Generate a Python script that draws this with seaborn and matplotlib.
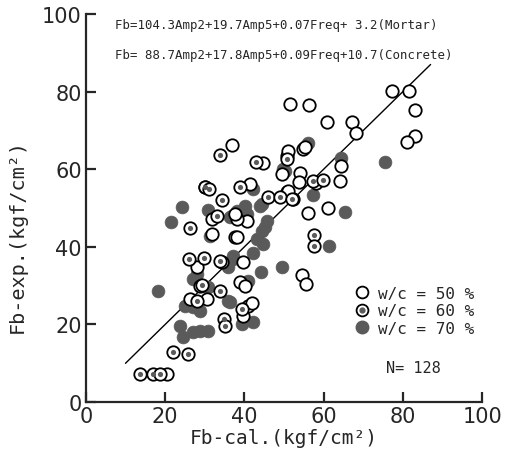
import seaborn as sns
import pandas as pd
import matplotlib.pyplot as plt
from matplotlib.lines import Line2D
from matplotlib.legend_handler import HandlerTuple

# w/c = 50 % (open circles)
open_x = [77.3, 81.6, 83.0, 83.0, 81.0, 51.5, 56.3, 60.9, 67.2, 68.2, 54.8, 50.8,
          51.0, 64.4, 54.0, 53.8, 64.1, 50.8, 52.3, 56.1, 61.1, 54.5, 55.6, 39.6,
          38.9, 40.2, 40.9, 39.6, 28.0, 26.3, 30.6, 20.5, 37.6, 31.9, 34.3, 36.9,
          44.7, 55.3, 49.5, 41.4, 51.0, 31.8, 38.1, 40.7, 38.1, 28.8, 30.1, 58.0,
          37.6, 42.0]
open_y = [80.2, 80.2, 75.3, 68.6, 67.0, 76.8, 76.5, 72.2, 72.2, 69.3, 65.2, 63.4,
          64.6, 60.8, 59.0, 56.7, 57.0, 54.1, 52.3, 48.7, 50.0, 32.7, 30.4, 36.1,
          30.9, 29.9, 24.7, 22.2, 34.8, 26.5, 26.5, 7.2, 42.5, 43.3, 36.1, 66.2,
          61.6, 65.7, 58.8, 56.2, 54.4, 47.2, 42.5, 46.6, 47.2, 29.9, 55.4, 56.5,
          48.4, 25.5]

# w/c = 60 % (circle with dot)
dot_x = [57.6, 57.6, 39.4, 26.0, 29.8, 33.8, 33.8, 34.8, 28.0, 22.0, 25.8, 13.6,
         16.9, 18.7, 26.3, 33.8, 42.9, 50.8, 30.1, 31.0, 34.3, 38.9, 33.1, 46.0,
         49.0, 52.0, 57.3, 59.8, 29.2, 35.1]
dot_y = [43.0, 40.2, 24.0, 36.9, 37.1, 28.6, 36.3, 21.4, 26.0, 12.9, 12.4, 7.2,
         7.2, 7.2, 44.8, 63.7, 61.9, 62.6, 55.4, 55.0, 52.1, 55.4, 47.9, 52.8,
         52.8, 52.3, 57.0, 57.2, 30.3, 19.6]

# w/c = 70 % (filled)
fill_x = [56.1, 49.7, 64.4, 75.5, 57.3, 65.4, 61.4, 49.5, 44.2, 44.7, 42.2, 37.1,
          40.9, 36.4, 39.4, 42.2, 28.0, 27.0, 30.8, 35.9, 37.1, 35.9, 18.2, 27.0,
          28.8, 25.0, 23.7, 24.5, 28.8, 30.8, 27.0, 31.3, 24.2, 21.5, 30.8, 38.1,
          42.2, 40.2, 40.7, 43.9, 36.4, 45.2, 45.7, 43.2, 44.4, 44.4, 36.9, 50.3]
fill_y = [66.8, 60.1, 62.9, 61.9, 53.4, 49.0, 40.2, 34.8, 33.5, 40.7, 38.4, 36.9,
          31.2, 25.8, 20.1, 20.6, 33.0, 31.7, 29.6, 34.8, 37.6, 26.0, 28.6, 24.5,
          23.5, 24.7, 19.6, 16.8, 18.3, 18.3, 18.0, 42.8, 50.3, 46.4, 49.5, 49.2,
          54.9, 50.5, 48.5, 50.5, 47.7, 45.1, 46.6, 42.0, 44.1, 51.0, 47.9, 59.5]

fit_line = [10, 87]

labels = ["w/c = 50 %", "w/c = 60 %", "w/c = 70 %"]
eq_mortar = "Fb=104.3Amp2+19.7Amp5+0.07Freq+ 3.2(Mortar)"
eq_concrete = "Fb= 88.7Amp2+17.8Amp5+0.09Freq+10.7(Concrete)"

gray = "#5a5a5a"
mono = "DejaVu Sans Mono"


def main():
    sns.set_style("ticks")
    fig = plt.figure(figsize=(5.08, 4.56), dpi=100)
    ax = fig.add_axes([0.169, 0.116, 0.78, 0.851])

    df_open = pd.DataFrame({"x": open_x, "y": open_y})
    df_dot = pd.DataFrame({"x": dot_x, "y": dot_y})
    df_fill = pd.DataFrame({"x": fill_x, "y": fill_y})

    ax.plot(fit_line, fit_line, color="black", lw=1.0, zorder=1)

    sns.scatterplot(data=df_fill, x="x", y="y", ax=ax, s=85, color=gray,
                    edgecolor=gray, linewidth=0.5, zorder=2)
    sns.scatterplot(data=df_open, x="x", y="y", ax=ax, s=80, facecolor="white",
                    edgecolor="black", linewidth=1.3, zorder=3)
    sns.scatterplot(data=df_dot, x="x", y="y", ax=ax, s=80, facecolor="white",
                    edgecolor="black", linewidth=1.3, zorder=3)
    sns.scatterplot(data=df_dot, x="x", y="y", ax=ax, s=14, color=gray,
                    edgecolor=gray, linewidth=0, zorder=4)

    ax.set_xlim(0, 100)
    ax.set_ylim(0, 100)
    ax.set_xticks(range(0, 101, 20))
    ax.set_yticks(range(0, 101, 20))
    sns.despine(ax=ax)
    for sp in ["left", "bottom"]:
        ax.spines[sp].set_linewidth(1.6)
    ax.tick_params(direction="in", length=7, width=1.6, labelsize=15, pad=3)
    ax.set_xlabel("Fb-cal.(kgf/cm²)", fontsize=14, family=mono, labelpad=1)
    ax.set_ylabel("Fb-exp.(kgf/cm²)", fontsize=14.5, family=mono)
    ax.yaxis.set_label_coords(-0.15, 0.43)

    ax.text(7.3, 97.4, eq_mortar, fontsize=8.9, family=mono, va="center")
    ax.text(7.3, 89.6, eq_concrete, fontsize=8.9, family=mono, va="center")
    ax.text(75.7, 9.0, "N= 128", fontsize=11, family=mono, va="center")

    h_open = Line2D([], [], ls="", marker="o", ms=8.5, mfc="white", mec="black", mew=1.3)
    h_ring = Line2D([], [], ls="", marker="o", ms=8.5, mfc="white", mec="black", mew=1.3)
    h_dot = Line2D([], [], ls="", marker="o", ms=3.5, mfc=gray, mec=gray)
    h_fill = Line2D([], [], ls="", marker="o", ms=9, mfc=gray, mec=gray)
    ax.legend([h_open, (h_ring, h_dot), h_fill], labels,
              handler_map={tuple: HandlerTuple(ndivide=1)},
              loc="lower left", bbox_to_anchor=(0.66, 0.155), frameon=False,
              prop={"family": mono, "size": 11.5}, handlelength=1.0,
              handletextpad=0.5, labelspacing=0.15, borderaxespad=0)

    plt.savefig("out.png", dpi=100)


if __name__ == "__main__":
    main()
